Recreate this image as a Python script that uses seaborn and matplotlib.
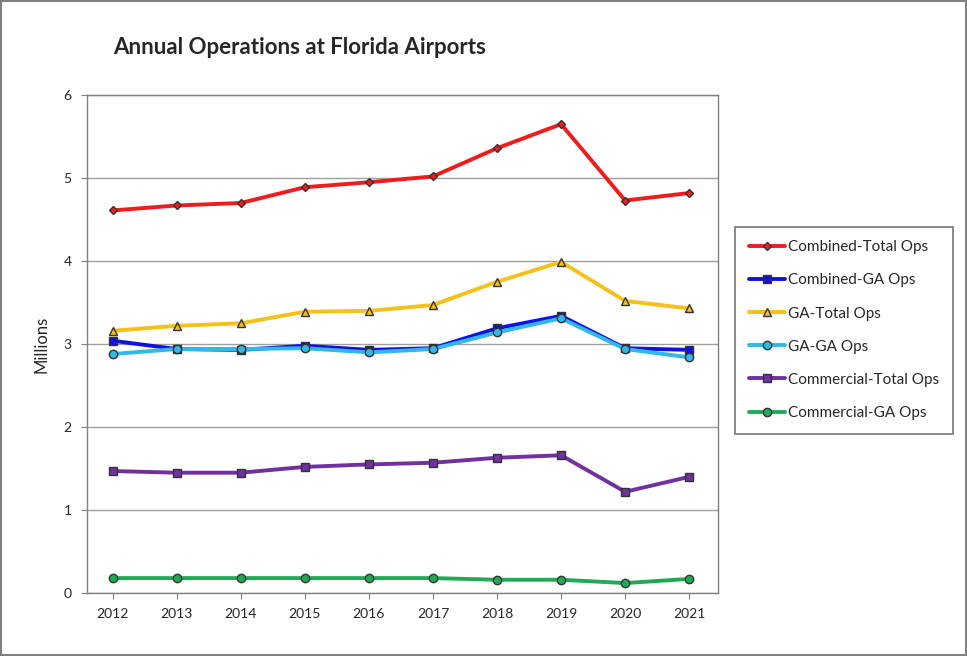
import pandas as pd
import seaborn as sns
import matplotlib.pyplot as plt

years = [2012, 2013, 2014, 2015, 2016, 2017, 2018, 2019, 2020, 2021]

combined_total = [4.61, 4.67, 4.70, 4.89, 4.95, 5.02, 5.36, 5.65, 4.73, 4.82]
combined_ga = [3.04, 2.94, 2.93, 2.98, 2.93, 2.95, 3.19, 3.34, 2.95, 2.93]
ga_total = [3.16, 3.22, 3.25, 3.39, 3.40, 3.47, 3.75, 3.99, 3.52, 3.43]
ga_ga = [2.88, 2.94, 2.94, 2.95, 2.90, 2.94, 3.14, 3.31, 2.94, 2.84]
commercial_total = [1.47, 1.45, 1.45, 1.52, 1.55, 1.57, 1.63, 1.66, 1.22, 1.40]
commercial_ga = [0.18, 0.18, 0.18, 0.18, 0.18, 0.18, 0.16, 0.16, 0.12, 0.17]

series_names = ["Combined-Total Ops", "Combined-GA Ops", "GA-Total Ops",
                "GA-GA Ops", "Commercial-Total Ops", "Commercial-GA Ops"]
series_values = [combined_total, combined_ga, ga_total, ga_ga, commercial_total, commercial_ga]

colors = ["#ee1c1c", "#1010e8", "#f5c01a", "#30b8e8", "#7030a0", "#1faa55"]
markers = ["D", "s", "^", "o", "s", "o"]
marker_sizes = [4.5, 6, 6, 6, 6, 6]

rows = []
for name, vals in zip(series_names, series_values):
    for yr, v in zip(years, vals):
        rows.append({"Year": yr, "Ops": v, "Series": name})
df = pd.DataFrame(rows)

sns.set_style("white")
plt.rcParams["font.family"] = ["Lato", "DejaVu Sans"]

fig = plt.figure(figsize=(9.67, 6.56), dpi=100)
fig.patch.set_edgecolor("#808080")
fig.patch.set_linewidth(1.5)
ax = fig.add_axes([0.090, 0.096, 0.6525, 0.759])

ax.yaxis.grid(True, color="#a0a0a0", linewidth=1)
ax.set_axisbelow(True)

for name, col, mk, ms in zip(series_names, colors, markers, marker_sizes):
    sub = df[df["Series"] == name]
    sns.lineplot(data=sub, x="Year", y="Ops", ax=ax, color=col, linewidth=2.8,
                 marker=mk, markersize=ms, markeredgecolor="#333333",
                 markeredgewidth=1.0, label=name)

ax.set_xlim(2011.6, 2021.45)
ax.set_ylim(0, 6)
ax.set_xticks(years)
ax.set_xticklabels([str(y) for y in years], fontsize=10)
ax.set_yticks(range(0, 7))
ax.set_yticklabels([str(i) for i in range(0, 7)], fontsize=10)
ax.tick_params(axis="both", length=4, color="#808080", direction="out", pad=7)
ax.tick_params(axis="x", bottom=True)
ax.tick_params(axis="y", left=True)
ax.set_xlabel("")
ax.set_ylabel("Millions", fontsize=12, labelpad=10)
for sp in ax.spines.values():
    sp.set_color("#808080")
    sp.set_linewidth(1)

fig.text(0.117, 0.928, "Annual Operations at Florida Airports", fontsize=16,
         fontweight="bold", ha="left", va="center")

leg = ax.legend(loc="center left", bbox_to_anchor=(1.027, 0.528), frameon=True,
                fancybox=False, fontsize=11, handlelength=2.4, labelspacing=1.25,
                borderpad=0.9, handletextpad=0.15, borderaxespad=0)
leg.get_frame().set_edgecolor("#555555")
leg.get_frame().set_linewidth(1.2)

fig.savefig("out.png", dpi=100)
